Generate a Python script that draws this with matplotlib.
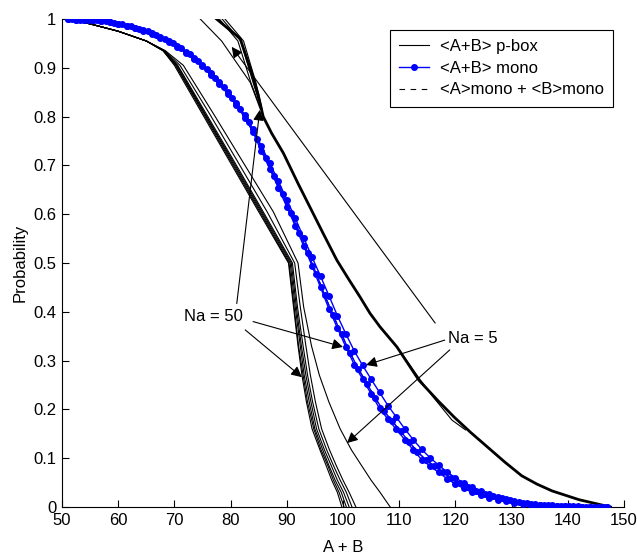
import matplotlib
matplotlib.use('Agg')
import matplotlib.pyplot as plt

plt.rcParams['font.family'] = ['Liberation Sans', 'DejaVu Sans']
plt.rcParams['font.size'] = 12

# ---- <A+B> mono curves ----
mono_x = [51, 52.5, 54, 55.5, 57, 58.5, 60, 61.5, 63, 64.5, 66, 67.5, 69, 70.5, 72, 73.5,
          75, 76.5, 78, 79.5, 81, 82.5, 84, 85.5, 87, 88.5, 90, 91.5, 93, 94.5, 96, 97.5,
          99, 100.5, 102, 103.5, 105, 106.5, 108, 109.5, 111, 112.5, 114, 115.5, 117, 118.5,
          120, 121.5, 123, 124.5, 126, 127.5, 129, 130.5, 132, 133.5, 135, 136.5, 138, 139.5,
          141, 142.5, 144, 145.5, 147]
mono_na50_a = [1.000, 0.999, 0.998, 0.997, 0.995, 0.993, 0.990, 0.986, 0.981, 0.976, 0.970,
               0.962, 0.953, 0.943, 0.931, 0.918, 0.903, 0.886, 0.867, 0.846, 0.824, 0.798,
               0.768, 0.729, 0.692, 0.654, 0.615, 0.576, 0.535, 0.494, 0.450, 0.406, 0.367,
               0.328, 0.292, 0.262, 0.232, 0.202, 0.180, 0.159, 0.138, 0.117, 0.097, 0.084,
               0.071, 0.058, 0.047, 0.038, 0.030, 0.024, 0.019, 0.015, 0.012, 0.009, 0.007,
               0.005, 0.004, 0.003, 0.002, 0.002, 0.001, 0.001, 0.001, 0.000, 0.000]
mono_na5 = [1.000, 0.999, 0.998, 0.997, 0.995, 0.993, 0.990, 0.986, 0.982, 0.977, 0.971,
            0.963, 0.955, 0.945, 0.933, 0.920, 0.906, 0.889, 0.870, 0.850, 0.828, 0.804,
            0.774, 0.739, 0.704, 0.668, 0.630, 0.592, 0.552, 0.512, 0.473, 0.433, 0.392,
            0.355, 0.320, 0.290, 0.262, 0.235, 0.208, 0.184, 0.160, 0.138, 0.118, 0.101,
            0.086, 0.072, 0.060, 0.049, 0.040, 0.032, 0.026, 0.020, 0.016, 0.012, 0.009,
            0.007, 0.005, 0.004, 0.003, 0.002, 0.002, 0.001, 0.001, 0.001, 0.000]
mono_x_b = [51.75, 53.25, 54.75, 56.25, 57.75, 59.25, 60.75, 62.25, 63.75, 65.25, 66.75,
            68.25, 69.75, 71.25, 72.75, 74.25, 75.75, 77.25, 78.75, 80.25, 81.75, 83.25,
            84.75, 86.25, 87.75, 89.25, 90.75, 92.25, 93.75, 95.25, 96.75, 98.25, 99.75,
            101.25, 102.75, 104.25, 105.75, 107.25, 108.75, 110.25, 111.75, 113.25, 114.75,
            116.25, 117.75, 119.25, 120.75, 122.25, 123.75, 125.25, 126.75, 128.25, 129.75,
            131.25, 132.75, 134.25, 135.75, 137.25, 138.75, 140.25, 141.75, 143.25, 144.75,
            146.25]
mono_na50_b = [1.000, 0.999, 0.998, 0.997, 0.995, 0.992, 0.989, 0.985, 0.980, 0.975, 0.968,
               0.960, 0.951, 0.940, 0.928, 0.914, 0.898, 0.880, 0.860, 0.839, 0.815, 0.788,
               0.754, 0.716, 0.679, 0.641, 0.602, 0.562, 0.521, 0.478, 0.434, 0.393, 0.354,
               0.316, 0.283, 0.253, 0.223, 0.197, 0.176, 0.155, 0.134, 0.113, 0.097, 0.084,
               0.071, 0.059, 0.049, 0.040, 0.033, 0.027, 0.022, 0.018, 0.014, 0.011, 0.009,
               0.007, 0.005, 0.004, 0.003, 0.003, 0.002, 0.001, 0.001, 0.000]

# ---- p-box lower (left) bounds: shared probability levels ----
left_p = [1.0, 0.99, 0.975, 0.955, 0.935, 0.905, 0.805, 0.705, 0.605, 0.50,
          0.41, 0.33, 0.27, 0.215, 0.16, 0.117, 0.085, 0.055, 0.03, 0.0]
left_na50 = [
    [51, 55, 60, 65, 68.0, 70.0, 75.0, 80.0, 85.0, 90.3, 91.2, 92.0, 92.7, 93.5, 94.5, 95.9, 97.0, 98.0, 99.0, 99.8],
    [51, 55, 60, 65, 68.0, 70.2, 75.2, 80.2, 85.2, 90.4, 91.3, 92.1, 92.9, 93.7, 94.8, 96.1, 97.3, 98.3, 99.3, 100.2],
    [51, 55, 60, 65, 68.0, 70.3, 75.4, 80.4, 85.4, 90.6, 91.5, 92.4, 93.1, 94.0, 95.0, 96.4, 97.5, 98.6, 99.7, 100.6],
    [51, 55, 60, 65, 68.2, 70.5, 75.5, 80.6, 85.6, 90.8, 91.7, 92.6, 93.4, 94.3, 95.3, 96.7, 97.9, 99.0, 100.1, 101.1],
    [51, 55, 60, 65, 68.2, 70.6, 75.7, 80.8, 85.8, 91.0, 91.9, 92.9, 93.7, 94.6, 95.7, 97.1, 98.3, 99.5, 100.6, 101.6],
]
left_na5 = [
    [51, 55, 60, 65, 68.3, 71.0, 76.3, 81.4, 86.5, 91.4, 92.4, 93.4, 94.2, 95.1, 96.2, 97.6, 98.8, 100.0, 101.1, 102.3],
    [51, 55, 60, 65, 68.4, 71.6, 77.0, 82.3, 87.6, 92.0, 93.0, 94.4, 95.8, 97.5, 99.5, 101.5, 103.3, 105.0, 106.6, 108.4],
]

# ---- p-box upper (right) bounds ----
right_main_x = [77.5, 81.7, 83.6, 84.9, 85.8, 87.3, 89.4, 92.0, 94.1, 96.5, 98.9, 101.0, 103.0,
                104.8, 106.6, 109.6, 113.5, 116.8, 119.8, 122.8, 125.8, 128.8, 131.8, 134.5,
                137.2, 142.0, 147.6]
right_main_p = [1.0, 0.96, 0.895, 0.845, 0.80, 0.766, 0.725, 0.663, 0.615, 0.56, 0.506, 0.467,
                0.431, 0.397, 0.369, 0.328, 0.26, 0.219, 0.184, 0.152, 0.122, 0.092, 0.064,
                0.047, 0.033, 0.015, 0.0]
right_top_p = [1.0, 0.955, 0.87, 0.815]
right_top_na50 = [
    [78.0, 81.3, 83.6, 85.4],
    [78.5, 81.8, 84.0, 85.5],
    [79.0, 82.3, 84.5, 85.6],
]
right_top_na5 = [74.6, 78.4, 83.5, 85.3]
right_mid_na5_x = [110.0, 113.6, 116.0, 119.4, 121.8]
right_mid_na5_p = [0.322, 0.263, 0.226, 0.178, 0.158]

fig = plt.figure(figsize=(6.37, 5.56), dpi=100)
ax = fig.add_axes([0.0973, 0.0881, 0.8823, 0.8777])

# p-box lines
for xs in left_na50:
    ax.plot(xs, left_p, color='k', lw=0.8, zorder=2)
for xs in left_na5:
    ax.plot(xs, left_p, color='k', lw=0.8, zorder=2)
ax.plot(right_main_x, right_main_p, color='k', lw=2.0, zorder=2)
for xs in right_top_na50:
    ax.plot(xs, right_top_p, color='k', lw=0.8, zorder=2)
ax.plot(right_top_na5, right_top_p, color='k', lw=0.8, zorder=2)
ax.plot(right_mid_na5_x, right_mid_na5_p, color='k', lw=0.8, zorder=2)

# <A>mono + <B>mono (dashed, mostly hidden under the blue curves)
ax.plot(mono_x_b, mono_na50_b, color='k', ls='--', dashes=(5, 4), lw=0.8, zorder=2)

# <A+B> mono curves
for xs, ys in ((mono_x, mono_na50_a), (mono_x_b, mono_na50_b), (mono_x, mono_na5)):
    ax.plot(xs, ys, color='#0000ff', lw=1.0, marker='o', ms=4,
            mec='#0000ff', mfc='#0000ff', zorder=3)

# legend handles
h1, = ax.plot([], [], color='k', lw=0.8, label='<A+B> p-box')
h2, = ax.plot([], [], color='#0000ff', lw=1.0, marker='o', ms=4,
              label='<A+B> mono')
h3, = ax.plot([], [], color='k', lw=0.8, ls='--', dashes=(5, 5),
              label='<A>mono + <B>mono')
leg = ax.legend(handles=[h1, h2, h3], loc='upper right', fancybox=False,
                edgecolor='k', framealpha=1, borderaxespad=0.65,
                labelspacing=0.4, handlelength=1.8, handletextpad=0.65,
                borderpad=0.55)
leg.get_frame().set_linewidth(0.8)

# annotations
arrow = dict(arrowstyle='-|>', color='k', lw=0.8, mutation_scale=16,
             shrinkA=0, shrinkB=0)
ax.text(76.9, 0.391, 'Na = 50', ha='center', va='center', zorder=5)
ax.annotate('', xy=(85.2, 0.814), xytext=(81.1, 0.417), arrowprops=arrow, zorder=5)
ax.annotate('', xy=(100.0, 0.328), xytext=(84.0, 0.380), arrowprops=arrow, zorder=5)
ax.annotate('', xy=(92.7, 0.266), xytext=(82.6, 0.363), arrowprops=arrow, zorder=5)

ax.text(123.1, 0.346, 'Na = 5', ha='center', va='center', zorder=5)
ax.annotate('', xy=(80.2, 0.943), xytext=(116.4, 0.377), arrowprops=arrow, zorder=5)
ax.annotate('', xy=(104.1, 0.291), xytext=(118.1, 0.342), arrowprops=arrow, zorder=5)
ax.annotate('', xy=(100.7, 0.131), xytext=(119.0, 0.322), arrowprops=arrow, zorder=5)

ax.set_xlim(50, 150)
ax.set_ylim(0, 1)
ax.set_xticks(range(50, 151, 10))
yt = [i / 10 for i in range(11)]
ax.set_yticks(yt)
ax.set_yticklabels(['0', '0.1', '0.2', '0.3', '0.4', '0.5', '0.6', '0.7', '0.8', '0.9', '1'])
ax.spines['top'].set_visible(False)
ax.spines['right'].set_visible(False)
ax.tick_params(direction='in', length=5, width=0.8, pad=4)
ax.set_xlabel('A + B', labelpad=9)
ax.set_ylabel('Probability', labelpad=4)

fig.savefig('out.png', dpi=100)
plt.close(fig)
